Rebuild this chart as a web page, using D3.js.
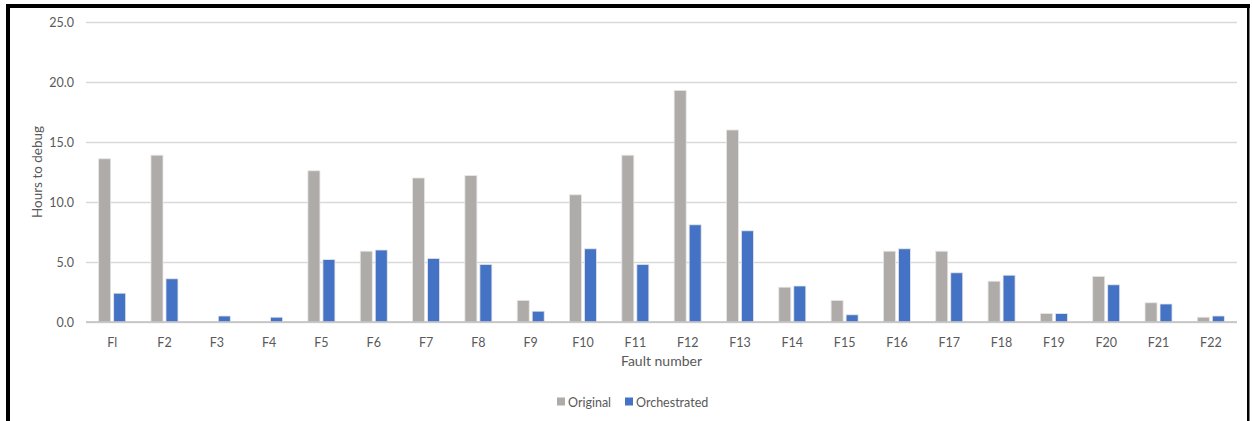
<!DOCTYPE html>
<html>
<head>
<meta charset="utf-8">
<script src="https://cdn.jsdelivr.net/npm/d3@7"></script>
<style>
  html, body { margin: 0; padding: 0; background: #ffffff; }
  svg { display: block; }
  text { font-family: Lato, "Open Sans", sans-serif; fill: #595959; }
</style>
</head>
<body>
<svg id="chart" width="1252" height="421"></svg>
<script>
// Fault labels along the x axis
const categories = ["Fl","F2","F3","F4","F5","F6","F7","F8","F9","F10","F11",
                    "F12","F13","F14","F15","F16","F17","F18","F19","F20","F21","F22"];
// Hours to debug per fault
const originalHours =     [13.6,13.9,0,0,12.6,5.9,12.0,12.2,1.8,10.6,13.9,19.3,16.0,2.9,1.8,5.9,5.9,3.4,0.7,3.8,1.6,0.4];
const orchestratedHours = [2.4,3.6,0.5,0.4,5.2,6.0,5.3,4.8,0.9,6.1,4.8,8.1,7.6,3.0,0.6,6.1,4.1,3.9,0.7,3.1,1.5,0.5];
const seriesNames = ["Original","Orchestrated"];
const yTicks = [0,5,10,15,20,25];

const colors = { Original: "#AEABA9", Orchestrated: "#4472C4" };

const svg = d3.select("#chart");

// Outer frame (heavier on left and top)
svg.append("rect").attr("x",6).attr("y",4).attr("width",4).attr("height",417).attr("fill","#000");
svg.append("rect").attr("x",6).attr("y",4).attr("width",1244).attr("height",4).attr("fill","#000");
svg.append("rect").attr("x",1247).attr("y",4).attr("width",2.5).attr("height",417).attr("fill","#000");

const plot = { left: 86, right: 1237, top: 22, bottom: 322 };

const x0 = d3.scaleBand().domain(categories).range([plot.left, plot.right]).padding(0);
const bw = x0.bandwidth();
const x1 = d3.scaleBand().domain(seriesNames)
  .range([bw/2 - 13.5, bw/2 + 13.5]).paddingInner(0.2).paddingOuter(0);
const y = d3.scaleLinear().domain([0,25]).range([plot.bottom, plot.top]);

// Gridlines and y tick labels
const yAxis = d3.axisLeft(y).tickValues(yTicks).tickFormat(d3.format(".1f"))
  .tickSize(-(plot.right - plot.left)).tickPadding(12);
const gy = svg.append("g").attr("transform", `translate(${plot.left},0)`).call(yAxis);
gy.select(".domain").remove();
gy.selectAll(".tick line").attr("stroke", "#D9D9D9").attr("stroke-width", 1.5);
gy.selectAll(".tick text").attr("font-size", 12.5).style("fill", "#595959");

// Bars
const rows = categories.map((c, i) => ({ cat: c, Original: originalHours[i], Orchestrated: orchestratedHours[i] }));
const groups = svg.append("g").selectAll("g").data(rows).join("g")
  .attr("transform", d => `translate(${x0(d.cat)},0)`);
groups.selectAll("rect")
  .data(d => seriesNames.map(k => ({ key: k, value: d[k] })))
  .join("rect")
  .filter(d => d.value > 0)
  .attr("x", d => x1(d.key))
  .attr("width", x1.bandwidth())
  .attr("y", d => y(d.value))
  .attr("height", d => y(0) - y(d.value))
  .attr("fill", d => colors[d.key])
  .attr("stroke", "#E6E6E6")
  .attr("stroke-width", 0.8);

// Baseline
svg.append("line").attr("x1", plot.left).attr("x2", plot.right)
  .attr("y1", y(0)).attr("y2", y(0)).attr("stroke", "#BFBFBF").attr("stroke-width", 1.5);

// X axis labels
const xAxis = d3.axisBottom(x0).tickSize(0).tickPadding(16);
const gx = svg.append("g").attr("transform", `translate(0,${plot.bottom})`).call(xAxis);
gx.select(".domain").remove();
gx.selectAll(".tick text").attr("font-size", 12.5).style("fill", "#595959");

// Axis titles
svg.append("text").attr("x", (plot.left + plot.right)/2).attr("y", 366)
  .attr("text-anchor", "middle").attr("font-size", 14).text("Fault number");
svg.append("text").attr("transform", `translate(42,${(plot.top + plot.bottom)/2}) rotate(-90)`)
  .attr("text-anchor", "middle").attr("font-size", 13.5).text("Hours to debug");

// Legend
const legend = svg.append("g").attr("transform", "translate(557,402)");
const legendItems = [{ key: "Original", x: 0 }, { key: "Orchestrated", x: 68 }];
const li = legend.selectAll("g").data(legendItems).join("g").attr("transform", d => `translate(${d.x},0)`);
li.append("rect").attr("x", 0).attr("y", -4.5).attr("width", 8).attr("height", 8).attr("fill", d => colors[d.key]);
li.append("text").attr("x", 11).attr("y", 4.5).attr("font-size", 12.5).text(d => d.key);
</script>
</body>
</html>
